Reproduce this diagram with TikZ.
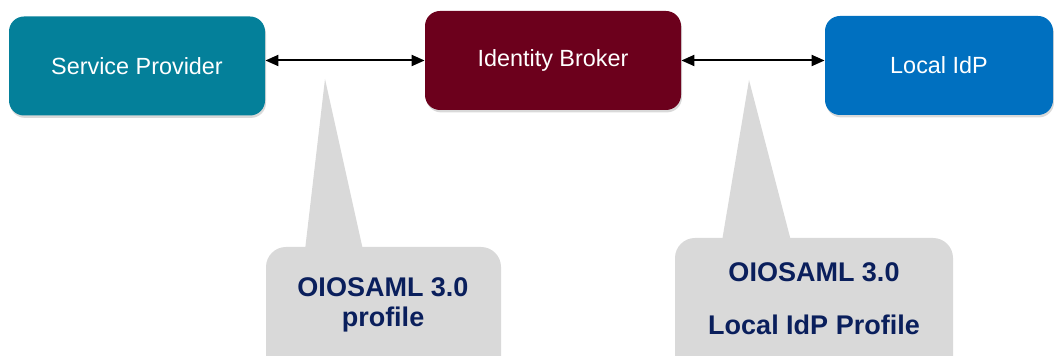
\documentclass[tikz,border=0pt]{standalone}
\usepackage{fontspec}
\setmainfont{Liberation Sans}
\usetikzlibrary{arrows.meta,shadows}
\definecolor{spteal}{HTML}{04809A}
\definecolor{ibred}{HTML}{6C001C}
\definecolor{idpblue}{HTML}{0070C0}
\definecolor{callgray}{HTML}{D9D9D9}
\definecolor{navy}{HTML}{0A1F5C}
\tikzset{
  actor/.style={rounded corners=7.5pt, text=white, font=\fontsize{11.7}{14}\selectfont,
    minimum height=49.5pt, inner sep=0pt,
    drop shadow={shadow xshift=0.5pt, shadow yshift=-1.2pt, opacity=0.3}},
  link/.style={{Triangle[length=6.5pt,width=5.5pt]}-{Triangle[length=6.5pt,width=5.5pt]}, line width=1pt, black},
  callbox/.style={fill=callgray, rounded corners=10pt},
  calltext/.style={text=navy, font=\fontsize{13.5}{16}\selectfont\bfseries, inner sep=0pt}
}
\begin{document}
\begin{tikzpicture}[x=0.5pt,y=-0.5pt]
\useasboundingbox (0,0) rectangle (1054,356);
\clip (0,0) rectangle (1054,356);
% callouts
\fill[callgray] (305,250) -- (325,79) -- (363,250) -- cycle;
\fill[callbox] (266,247) rectangle (501,390);
\fill[callgray] (722,241) -- (749,80) -- (791,241) -- cycle;
\fill[callbox] (675,238) rectangle (953,390);
\node[calltext] (c1a) at (383,287) {OIOSAML 3.0};
\node[calltext] (c1b) at (383,320) {profile};
\node[calltext] (c2a) at (814,272) {OIOSAML 3.0};
\node[calltext] (c2b) at (814,325) {Local IdP Profile};
% actors
\node[actor, fill=spteal, minimum width=128pt] (sp) at (137,66) {Service Provider};
\node[actor, fill=ibred, minimum width=128pt] (ib) at (553,60.5) {Identity Broker};
\node[actor, fill=idpblue, minimum width=114pt] (idp) at (939,65.5) {Local IdP};
% links
\draw[link] (sp.east |- ib.west) -- (ib.west);
\draw[link] (ib.east) -- (idp.west |- ib.east);
\end{tikzpicture}
\end{document}
